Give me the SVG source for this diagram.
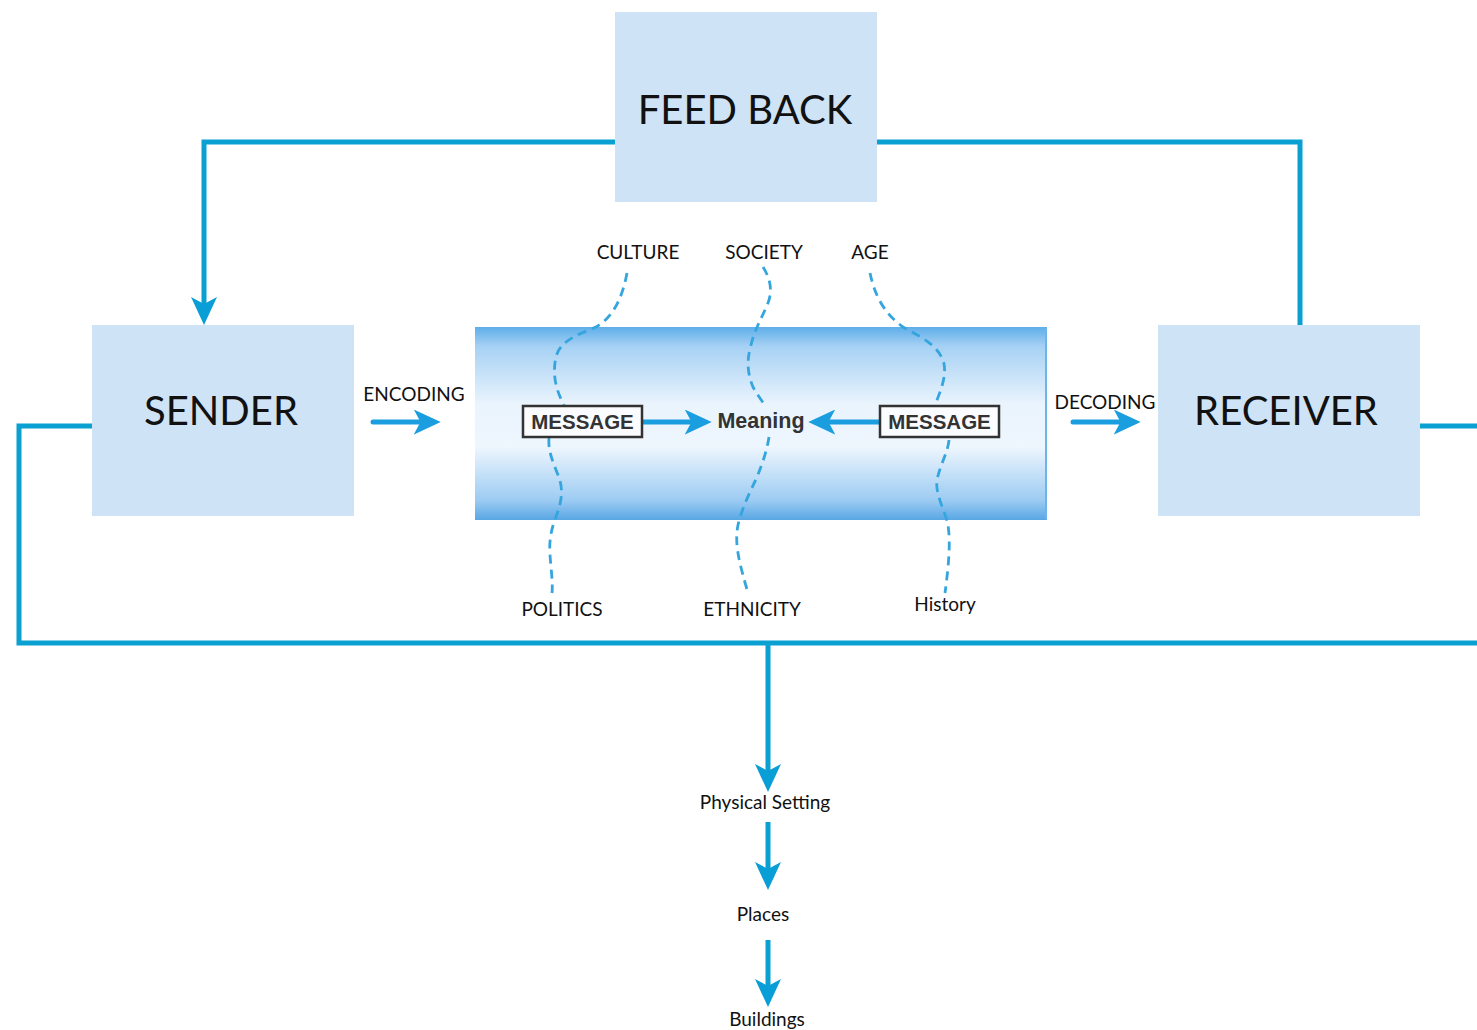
<svg xmlns="http://www.w3.org/2000/svg" width="1477" height="1030" viewBox="0 0 1477 1030">
<defs>
<linearGradient id="tube" x1="0" y1="0" x2="0" y2="1">
<stop offset="0" stop-color="#5eaee9"/>
<stop offset="0.1" stop-color="#a6d1f4"/>
<stop offset="0.4" stop-color="#eaf4fd"/>
<stop offset="0.62" stop-color="#eef6fe"/>
<stop offset="0.9" stop-color="#9ccbf2"/>
<stop offset="1" stop-color="#58a6e4"/>
</linearGradient>
<marker id="ah" viewBox="0 0 28 26" refX="20" refY="13" markerWidth="28" markerHeight="26" markerUnits="userSpaceOnUse" orient="auto">
<path d="M0,0 L28,13 L0,26 L7,13 z" fill="#0a9ed6"/>
</marker>
<marker id="ahs" viewBox="0 0 28 26" refX="20" refY="13" markerWidth="27" markerHeight="25" markerUnits="userSpaceOnUse" orient="auto">
<path d="M0,0 L28,13 L0,26 L7,13 z" fill="#1a9ee0"/>
</marker>
<style>
.box{fill:#cfe3f7}
.big{font-family:Lato,"Open Sans","DejaVu Sans",sans-serif;font-size:40px;fill:#111;text-anchor:middle}
.lbl{font-family:Lato,"Open Sans","DejaVu Sans",sans-serif;font-size:19px;fill:#111;text-anchor:middle}
.msg{font-family:"Liberation Sans",Arial,sans-serif;font-weight:bold;font-size:20.5px;fill:#333;text-anchor:middle}
.conn{fill:none;stroke:#0aa0d2;stroke-width:5}
.dash{fill:none;stroke:#35a5de;stroke-width:2.8;stroke-dasharray:9 6}
.sm{fill:none;stroke:#1a9ee0;stroke-width:5;stroke-linecap:round}
</style>
</defs>
<rect width="1477" height="1030" fill="#ffffff"/>

<g id="channel">
<rect x="475" y="327" width="572" height="193" fill="url(#tube)"/>
<line x1="1046" y1="328" x2="1046" y2="519" stroke="#6ab6ea" stroke-width="2"/>
</g>

<g id="connectors">
<polyline class="conn" points="615,142 204,142 204,317" marker-end="url(#ah)"/>
<polyline class="conn" points="877,142 1300,142 1300,325"/>
<polyline class="conn" points="92,426 19,426 19,643 1477,643"/>
<line class="conn" x1="1420" y1="426" x2="1477" y2="426"/>
<line class="conn" x1="768" y1="643" x2="768" y2="784" marker-end="url(#ah)"/>
<line class="conn" x1="768" y1="822" x2="768" y2="882" marker-end="url(#ah)"/>
<line class="conn" x1="768" y1="940" x2="768" y2="999" marker-end="url(#ah)"/>
<line class="sm" x1="373" y1="422" x2="433" y2="422" marker-end="url(#ahs)"/>
<line class="sm" x1="1073" y1="422" x2="1133" y2="422" marker-end="url(#ahs)"/>
<line class="sm" x1="642" y1="422" x2="704" y2="422" marker-end="url(#ahs)"/>
<line class="sm" x1="880" y1="422" x2="816" y2="422" marker-end="url(#ahs)"/>
<path class="dash" d="M627,273 C622,300 612,318 596,327 C580,334 560,340 556,357 C552,375 556,390 564,405"/>
<path class="dash" d="M549,438 C548,450 552,460 558,475 C565,492 560,505 556,517 C551,530 549,540 550,555 C551,570 553,582 552,593"/>
<path class="dash" d="M763,267 C770,278 773,290 768,303 C762,318 755,328 751,345 C746,362 748,375 753,387 C758,396 763,402 766,407"/>
<path class="dash" d="M769,437 C767,450 763,462 757,477 C750,492 742,508 738,525 C734,545 740,565 748,593"/>
<path class="dash" d="M870,273 C874,292 882,312 903,327 C918,336 935,342 943,360 C948,375 940,392 935,405"/>
<path class="dash" d="M949,440 C948,452 940,465 937,480 C935,495 945,510 948,525 C951,545 948,570 945,593"/>
</g>

<g id="feedback">
<rect class="box" x="615" y="12" width="262" height="190"/>
<text class="big" x="745" y="124">FEED BACK</text>
</g>
<g id="sender">
<rect class="box" x="92" y="325" width="262" height="191"/>
<text class="big" x="221" y="425">SENDER</text>
</g>
<g id="receiver">
<rect class="box" x="1158" y="325" width="262" height="191"/>
<text class="big" x="1286" y="425">RECEIVER</text>
</g>

<g id="encoding"><text class="lbl" x="414" y="401">ENCODING</text></g>
<g id="decoding"><text class="lbl" x="1105" y="409">DECODING</text></g>

<g id="message-left">
<rect x="523" y="406" width="119" height="31" fill="#fafcff" stroke="#333" stroke-width="2.5"/>
<text class="msg" x="582.5" y="429">MESSAGE</text>
</g>
<g id="message-right">
<rect x="880" y="406" width="119" height="31" fill="#fafcff" stroke="#333" stroke-width="2.5"/>
<text class="msg" x="939.5" y="429">MESSAGE</text>
</g>
<g id="meaning"><text class="msg" x="761" y="428" style="font-size:21.5px">Meaning</text></g>

<g id="culture"><text class="lbl" x="638" y="259">CULTURE</text></g>
<g id="society"><text class="lbl" x="764" y="259">SOCIETY</text></g>
<g id="age"><text class="lbl" x="870" y="259">AGE</text></g>
<g id="politics"><text class="lbl" x="562" y="616">POLITICS</text></g>
<g id="ethnicity"><text class="lbl" x="752" y="616">ETHNICITY</text></g>
<g id="history"><text class="lbl" x="945" y="611">History</text></g>

<g id="physical-setting"><text class="lbl" x="765" y="809">Physical Setting</text></g>
<g id="places"><text class="lbl" x="763" y="921">Places</text></g>
<g id="buildings"><text class="lbl" x="767" y="1026">Buildings</text></g>
</svg>
